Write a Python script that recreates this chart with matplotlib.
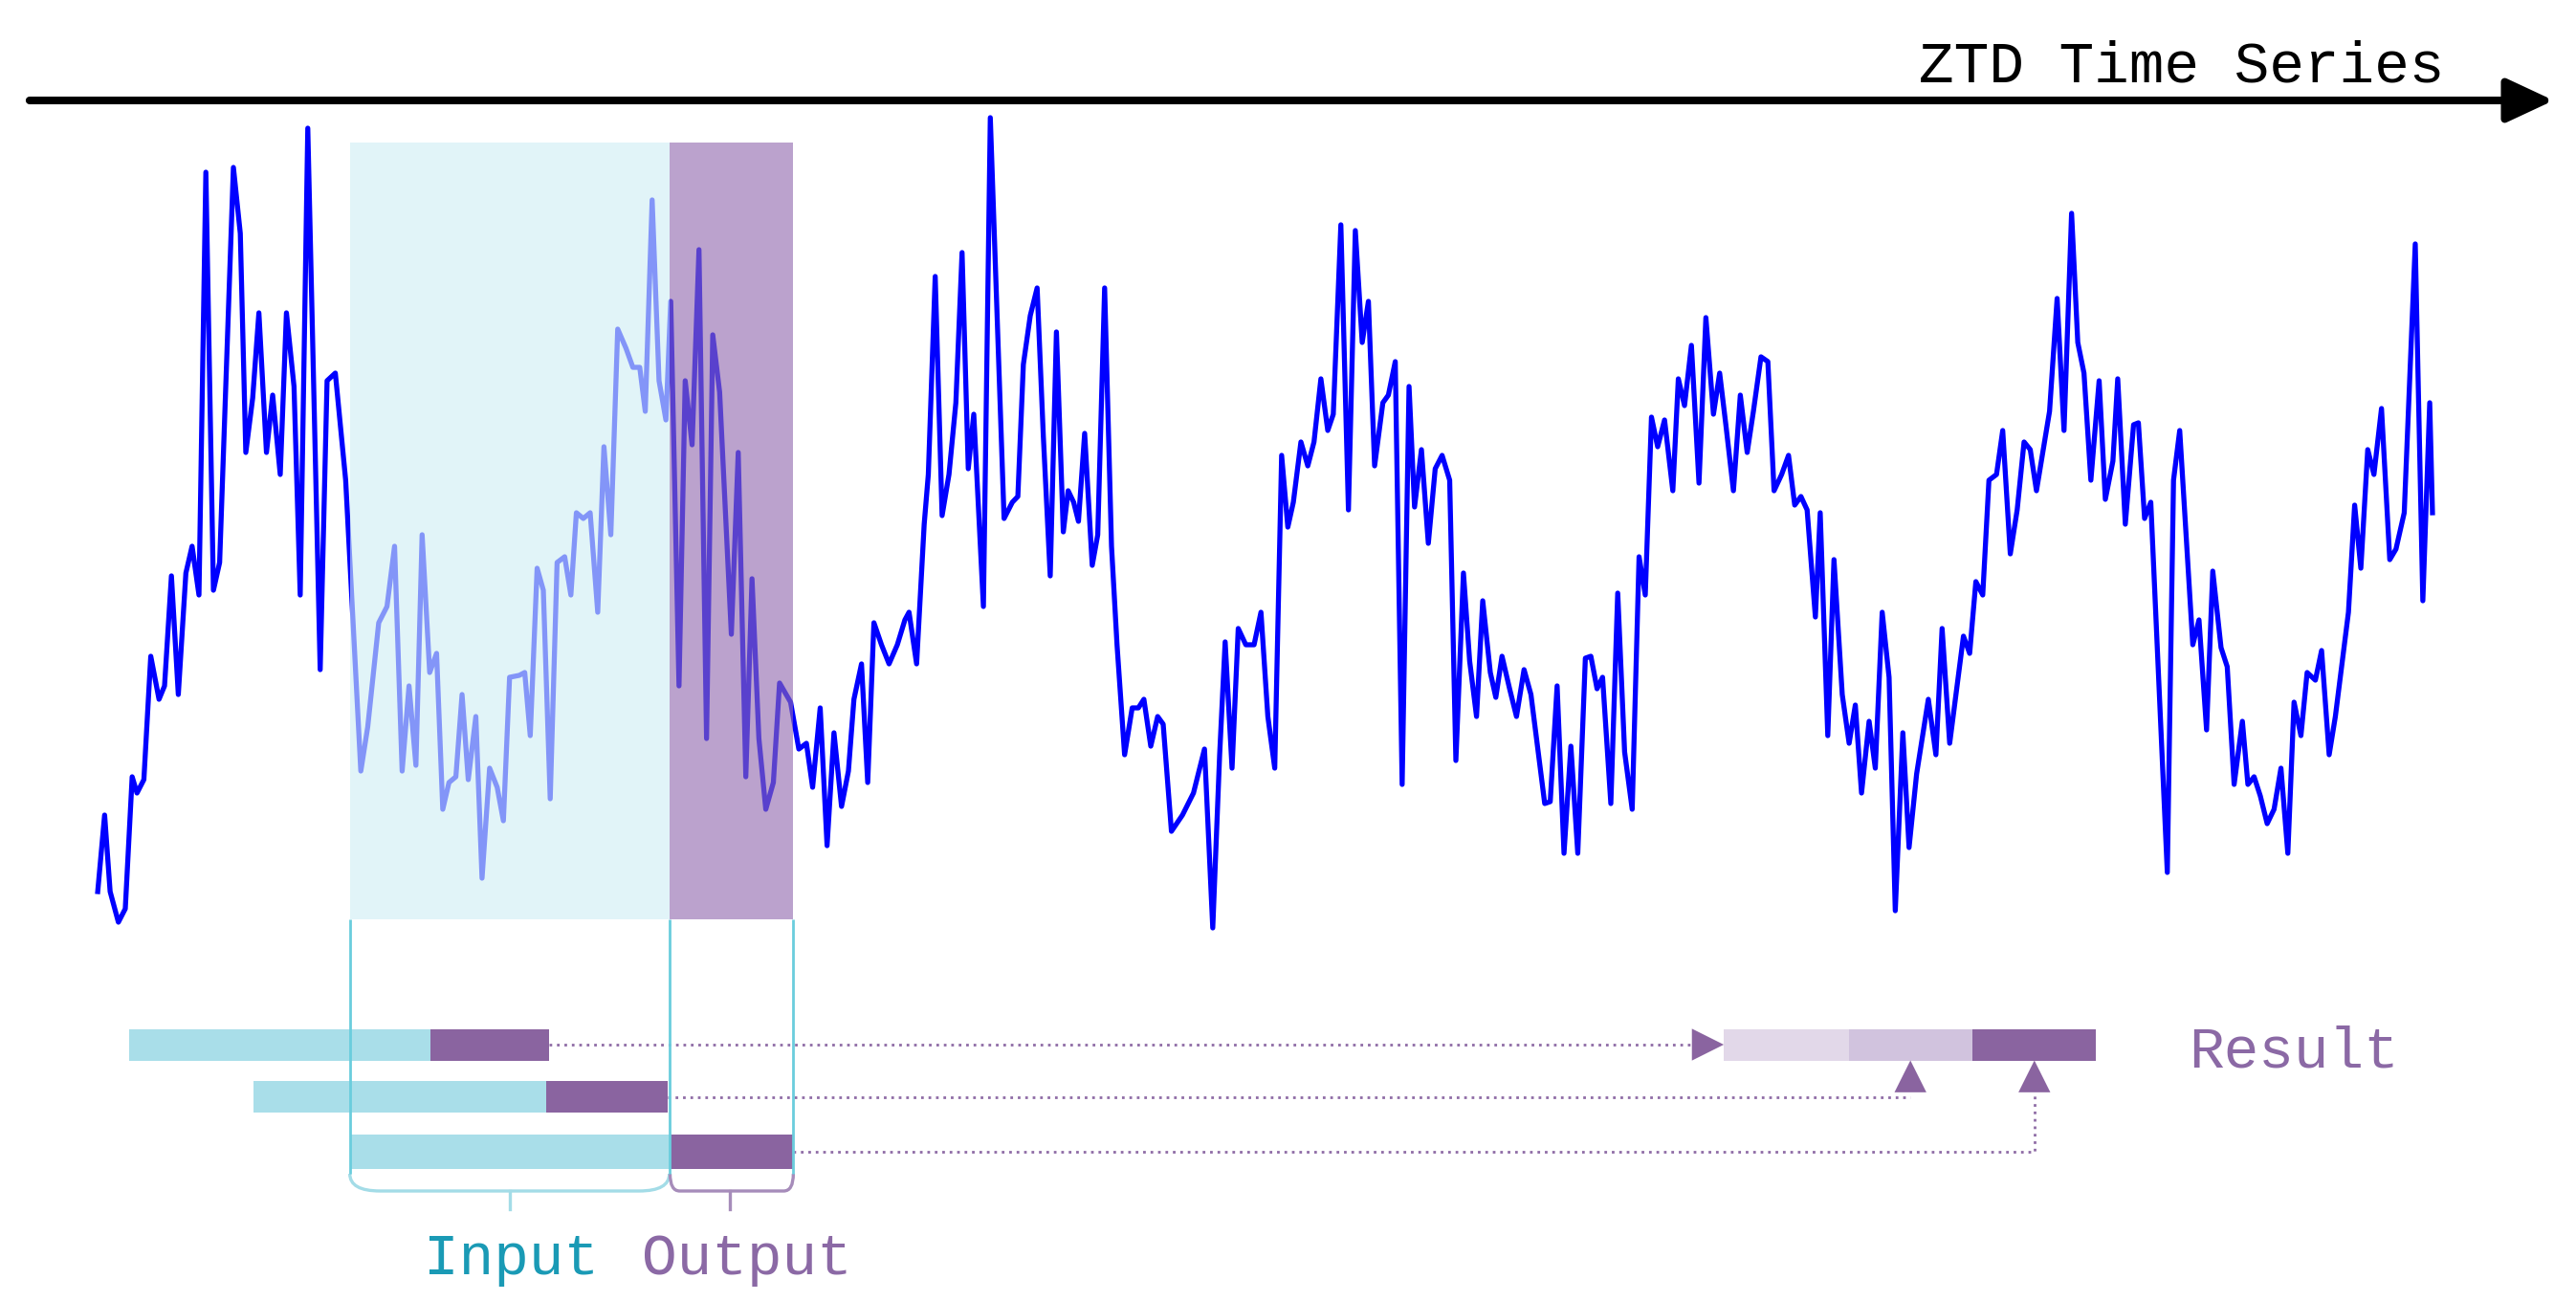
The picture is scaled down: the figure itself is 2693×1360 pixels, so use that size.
import matplotlib
matplotlib.use("Agg")
import numpy as np
from matplotlib import pyplot as plt
from matplotlib.patches import Rectangle, PathPatch, ArrowStyle
from matplotlib.path import Path

# 时间序列数据 (天, 相对ZTD)
t1 = [0.3, 1.3, 2.1, 3.3, 4.3, 5.3, 6.0, 7.0, 8.0, 9.2,
      10.0, 11.0, 12.0, 13.1, 14.0, 15.0, 16.0, 17.1, 18.0, 20.0,
      21.0, 21.8, 22.8, 23.7, 24.8, 25.7, 26.8, 27.7, 28.8, 29.7,
      30.8, 32.6, 33.6, 34.8, 36.3, 38.5, 39.5, 41.1, 42.3, 43.4,
      44.5, 45.5, 46.5, 47.4, 48.5, 49.5, 50.4, 51.3, 52.3, 53.2,
      54.1, 55.2, 56.1, 57.2, 58.3, 59.2, 60.1, 61.5, 62.3, 63.1,
      64.1, 65.0, 66.0, 67.0, 68.1, 69.0, 69.8, 70.8, 71.8, 72.9,
      73.8, 74.8, 75.8, 77.0, 78.0, 79.0, 79.8, 80.8, 81.8, 82.8,
      83.5, 84.7, 85.6, 86.6, 87.6, 88.7, 89.6, 90.6, 92.3, 93.3,
      94.4, 95.3, 96.3, 97.3, 98.4, 99.3, 100.9, 102.1, 103.2, 104.1,
      105.2, 106.2, 107.2, 108.3, 109.3]
v1 = [4.8, 12.8, 4.8, 1.6, 3.0, 16.8, 15.1, 16.5, 29.4, 24.9,
      26.3, 37.8, 25.4, 38.1, 40.9, 35.8, 80.0, 36.3, 39.2, 80.5,
      73.6, 50.7, 56.4, 65.3, 50.7, 56.7, 48.4, 65.3, 57.6, 35.8,
      84.6, 28.0, 58.2, 59.0, 47.8, 17.4, 22.0, 32.9, 34.6, 40.9,
      17.4, 26.3, 18.0, 42.1, 27.7, 29.7, 13.4, 16.2, 16.8, 25.4,
      16.5, 23.1, 6.2, 17.7, 15.7, 12.2, 27.2, 27.4, 27.7, 21.1,
      38.6, 36.3, 14.5, 39.2, 39.8, 35.8, 44.4, 43.8, 44.4, 34.0,
      51.3, 42.1, 63.6, 61.6, 59.6, 59.6, 55.0, 77.1, 58.2, 54.1,
      66.5, 26.3, 58.2, 51.5, 71.9, 20.8, 63.0, 57.0, 31.7, 50.7,
      16.8, 37.5, 20.8, 13.4, 16.2, 26.6, 24.6, 19.7, 20.3, 15.7,
      24.0, 9.6, 21.4, 13.7, 17.4]

t2 = [110.1, 111.2, 112.1, 113.0, 114.1, 115.2, 116.4, 117.5, 118.1, 119.2,
      120.3, 120.9, 121.9, 122.9, 123.9, 124.9, 125.8, 126.7, 127.5, 128.9,
      129.9, 131.9, 133.1, 133.9, 134.7, 135.7, 136.7, 137.6, 138.6, 139.5,
      140.5, 141.2, 142.0, 142.7, 143.6, 144.7, 145.5, 146.5, 147.5, 148.3,
      149.4, 150.5, 151.4, 152.2, 153.2, 154.2, 155.0, 156.2, 157.8, 159.4,
      161.0, 162.2, 163.2, 164.0, 165.0, 165.9, 167.0, 168.2, 169.2, 170.2,
      171.2, 172.2, 173.1, 173.9, 175.0, 176.0, 176.9, 177.9, 178.9, 179.7,
      180.8, 181.9, 182.9, 183.9, 184.8, 185.7, 186.9, 187.7, 188.7, 189.7,
      190.7, 191.5, 192.5, 193.5, 194.5, 195.5, 196.6, 197.5, 198.6, 199.5,
      200.5, 201.4, 202.5, 203.3, 204.2, 205.3, 206.3, 207.4, 208.4, 210.4,
      211.2, 212.2, 213.2, 214.2, 215.2, 216.3, 217.1, 218.0, 218.8, 220.0,
      221.0]
v2 = [24.9, 28.6, 16.2, 32.9, 30.6, 28.6, 30.6, 33.2, 34.0, 28.6,
      43.2, 48.4, 69.1, 44.1, 48.4, 55.9, 71.6, 49.0, 54.7, 34.6,
      85.7, 43.8, 45.5, 46.1, 59.9, 65.0, 67.9, 52.4, 37.8, 63.3,
      42.4, 46.7, 45.5, 43.5, 52.7, 38.9, 42.1, 67.9, 40.9, 30.6,
      19.1, 24.0, 24.0, 24.9, 20.0, 23.1, 22.3, 11.1, 12.8, 15.1,
      19.7, 1.0, 19.1, 30.9, 17.7, 32.3, 30.6, 30.6, 34.0, 23.1,
      17.7, 50.4, 42.9, 45.5, 51.8, 49.3, 51.8, 58.4, 53.0, 54.7,
      74.5, 44.7, 73.9, 62.2, 66.5, 49.3, 55.9, 56.7, 60.2, 16.0,
      57.6, 45.0, 51.0, 41.2, 49.0, 50.4, 47.8, 18.5, 38.1, 28.9,
      23.1, 35.2, 27.7, 25.1, 29.4, 26.0, 23.1, 28.0, 25.4, 14.0,
      14.2, 26.3, 8.8, 20.0, 8.8, 29.2, 29.4, 26.0, 27.2, 14.0,
      36.0]

t3 = [222.0, 223.1, 224.1, 225.0, 225.9, 226.8, 227.8, 229.0, 229.8, 230.7,
      231.7, 232.8, 233.8, 234.9, 235.8, 236.7, 237.8, 238.8, 239.8, 240.7,
      241.8, 242.8, 243.7, 244.8, 245.8, 246.7, 247.6, 248.5, 249.7, 250.4,
      251.5, 252.4, 253.6, 254.6, 255.5, 256.4, 257.5, 258.4, 259.4, 260.4,
      261.3, 262.4, 263.3, 264.4, 266.1, 267.2, 268.1, 269.2, 271.2, 272.1,
      273.0, 274.0, 274.9, 276.0, 276.9, 278.0, 279.0, 280.0, 280.9, 281.8,
      283.7, 284.8, 285.8, 286.9, 287.8, 288.7, 289.7, 290.9, 291.8, 292.9,
      293.6, 294.7, 295.9, 296.6, 297.5, 298.4, 300.8, 301.7, 302.6, 304.5,
      305.4, 306.5, 307.4, 308.6, 309.5, 310.5, 311.7, 312.5, 313.4, 314.3,
      315.3, 316.3, 317.3, 318.3, 319.2, 320.2, 321.1, 322.3, 323.2, 324.3,
      325.2, 327.1, 328.0, 328.9, 329.9, 330.8, 331.9, 333.1, 334.0, 335.2,
      336.8, 337.9, 338.9, 339.3]
v3 = [19.4, 13.4, 39.8, 35.8, 54.4, 51.3, 54.1, 46.7, 58.4, 55.6,
      61.9, 47.5, 64.8, 54.7, 59.0, 53.6, 46.7, 56.7, 50.7, 55.0,
      60.7, 60.2, 46.7, 48.4, 50.4, 45.2, 46.1, 44.7, 33.5, 44.4,
      21.1, 39.5, 25.4, 20.3, 24.3, 15.1, 22.6, 17.7, 34.0, 27.2,
      2.8, 21.4, 9.4, 17.1, 24.9, 19.1, 32.3, 20.3, 31.5, 29.7,
      37.2, 35.8, 47.8, 48.4, 53.0, 40.1, 44.7, 51.8, 51.0, 46.7,
      55.0, 66.8, 53.0, 75.7, 62.2, 59.0, 47.8, 58.2, 45.8, 49.8,
      58.4, 43.2, 53.6, 53.8, 43.8, 45.5, 6.8, 47.8, 53.0, 30.6,
      33.2, 21.7, 38.3, 30.3, 28.3, 16.0, 22.6, 16.0, 16.8, 14.8,
      11.9, 13.4, 17.7, 8.8, 24.6, 21.1, 27.7, 26.9, 30.0, 19.1,
      23.1, 34.0, 45.2, 38.6, 51.0, 48.4, 55.3, 39.5, 40.6, 44.4,
      72.5, 35.2, 55.9, 44.4]

t = t1 + t2 + t3
ztd = v1 + v2 + v3

# 窗口 (天)
input_start, input_end, output_end = 36.9, 83.3, 101.3
bar_starts = [4.9, 22.9, 36.9]
bar_splits = [48.6, 65.4, 83.3]
bar_ends = [65.8, 83.1, 101.3]
result_edges = [236.4, 254.6, 272.5, 290.4]
up_arrow_x = [263.5, 281.5]

# 颜色
BLUE = "#0000FF"
CYAN = "#A9DEE9"
PURPLE = "#8A64A0"
RESULT_COLORS = ["#E2D8E9", "#D1C3DE", "#8A64A0"]
FONT = "Liberation Mono"

fig = plt.figure(figsize=(26.93, 13.6), dpi=100)
ax = fig.add_axes([0, 0, 1, 1])
ax.set_xlim(-13.89, 360.14)
ax.set_ylim(-38, 98)
ax.axis("off")

# 时间序列
ax.plot(t, ztd, color=BLUE, lw=3.8, zorder=2)

# 输入 / 输出阴影
shade_bottom, shade_top = 1.9, 83.1
ax.add_patch(Rectangle((input_start, shade_bottom), input_end - input_start,
                       shade_top - shade_bottom, color="#D0EEF4", alpha=0.63,
                       lw=0, zorder=3))
ax.add_patch(Rectangle((input_end, shade_bottom), output_end - input_end,
                       shade_top - shade_bottom, color="#916AAF", alpha=0.62,
                       lw=0, zorder=3))

# 顶部箭头
ax.annotate("", xy=(356.9, 87.5), xytext=(-9.6, 87.5),
            arrowprops=dict(arrowstyle=ArrowStyle("-|>", head_length=30, head_width=14),
                            mutation_scale=1, lw=5.8, color="black",
                            shrinkA=0, shrinkB=0))
ax.text(302.9, 89.5, "ZTD Time Series", ha="center", va="baseline",
        fontsize=44, family=FONT, color="black")

# 竖线
bracket_top, bracket_bot = -24.7, -26.5
ax.vlines([input_start, input_end, output_end], bracket_top, shade_bottom,
          color="#6ACDDD", lw=2, zorder=4)

# 滑动窗口条
bar_y = [-11.2, -16.65, -22.4]
bar_h = [3.3, 3.3, 3.6]
starts = np.array(bar_starts)
splits = np.array(bar_splits)
ends = np.array(bar_ends)
ax.barh(bar_y, splits - starts, left=starts, height=bar_h, color=CYAN, zorder=3)
ax.barh(bar_y, ends - splits, left=splits, height=bar_h, color=PURPLE, zorder=3)

# 结果条
res = np.array(result_edges)
ax.barh([-11.2] * 3, np.diff(res), left=res[:-1], height=3.3,
        color=RESULT_COLORS, zorder=3)


def bracket(x0, x1, dx, tick_x, color):
    verts = [(x0, bracket_top), (x0, bracket_bot), (x0 + dx, bracket_bot),
             (x1 - dx, bracket_bot), (x1, bracket_bot), (x1, bracket_top)]
    codes = [Path.MOVETO, Path.CURVE3, Path.CURVE3, Path.LINETO,
             Path.CURVE3, Path.CURVE3]
    ax.add_patch(PathPatch(Path(verts, codes), fill=False, edgecolor=color,
                           lw=2.4, zorder=3))
    ax.plot([tick_x, tick_x], [bracket_bot, bracket_bot - 1.9], color=color,
            lw=2.4, zorder=3)


bracket(input_start, input_end, 4.4, 60.1, "#A3DCE7")
bracket(input_end + 0.1, output_end, 1.4, 92.1, "#A68CBA")

# 虚线连接
dot = dict(color="#8F6CA6", lw=2.0, ls=(0, (1, 1.8)), zorder=2)
head = ArrowStyle("-|>", head_length=24, head_width=12)
ax.plot([bar_ends[0], 231.5], [bar_y[0], bar_y[0]], **dot)
ax.annotate("", xy=(result_edges[0], bar_y[0]), xytext=(231.5, bar_y[0]),
            arrowprops=dict(arrowstyle=head, mutation_scale=1, lw=0,
                            color=PURPLE, shrinkA=0, shrinkB=0))
ax.plot([bar_ends[1], up_arrow_x[0]], [bar_y[1], bar_y[1]], **dot)
ax.plot([bar_ends[2], up_arrow_x[1], up_arrow_x[1]],
        [bar_y[2], bar_y[2], -16.3], **dot)
for xa in up_arrow_x:
    ax.annotate("", xy=(xa, -12.85), xytext=(xa, -16.3),
                arrowprops=dict(arrowstyle=head, mutation_scale=1, lw=0,
                                color=PURPLE, shrinkA=0, shrinkB=0))

# 文字
ax.text(319.2, -13.5, "Result", ha="center", va="baseline", fontsize=44,
        family=FONT, color="#8B69A5")
ax.text(60.3, -35.2, "Input", ha="center", va="baseline", fontsize=44,
        family=FONT, color="#1A9AB5")
ax.text(94.6, -35.2, "Output", ha="center", va="baseline", fontsize=44,
        family=FONT, color="#8B69A5")

fig.savefig("out.png", dpi=100)
